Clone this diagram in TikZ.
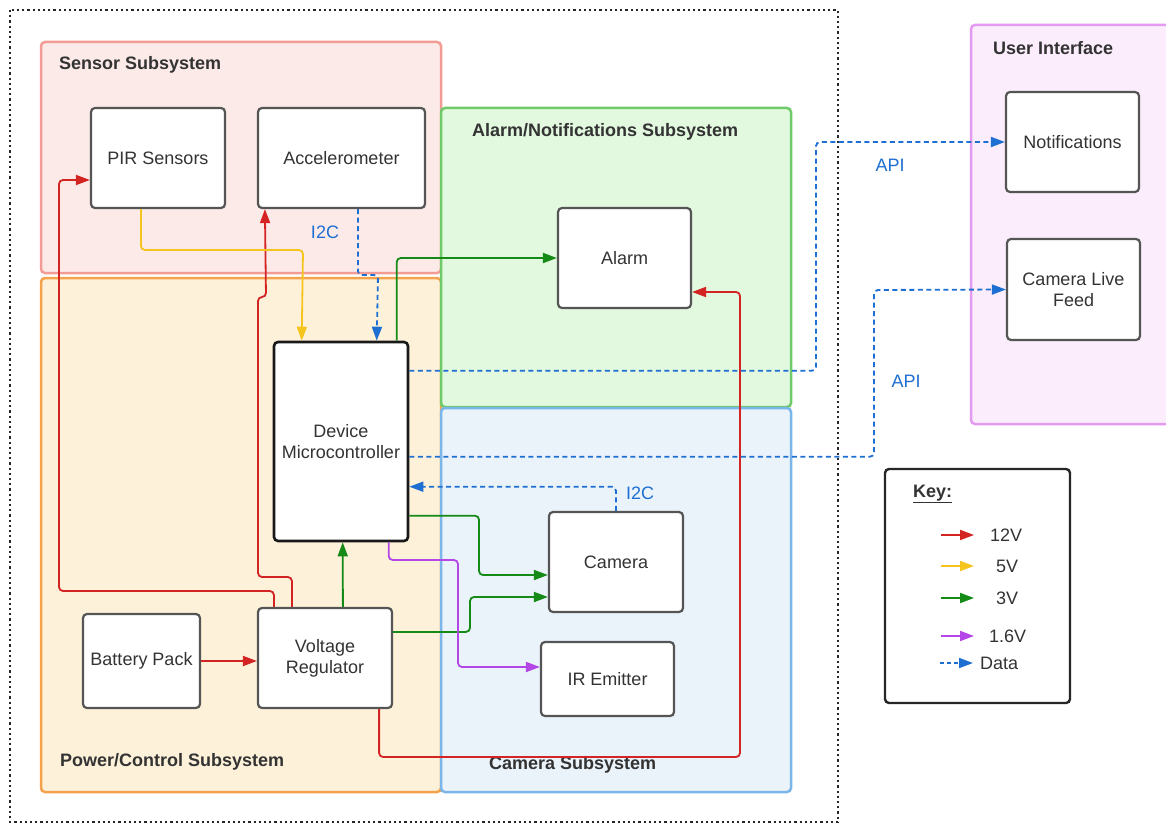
\documentclass[tikz,border=0pt]{standalone}
\usepackage{fontspec}
\setmainfont{Liberation Sans}
\usetikzlibrary{arrows.meta,calc}
\definecolor{c12}{HTML}{D42323}
\definecolor{c5}{HTML}{F5C51E}
\definecolor{c3}{HTML}{168A16}
\definecolor{c16}{HTML}{B445E6}
\definecolor{cdata}{HTML}{1E6FD2}
\definecolor{txt}{HTML}{333333}
\definecolor{boxgray}{HTML}{555555}
\definecolor{sensF}{HTML}{FCEAE8}\definecolor{sensD}{HTML}{F29C95}
\definecolor{powF}{HTML}{FDF1D9}\definecolor{powD}{HTML}{F5A24C}
\definecolor{almF}{HTML}{E2F8DF}\definecolor{almD}{HTML}{6FCB6A}
\definecolor{camF}{HTML}{EAF2FA}\definecolor{camD}{HTML}{7AB6EA}
\definecolor{uiF}{HTML}{FBEDFB}\definecolor{uiD}{HTML}{E39AF0}
\begin{document}
\begin{tikzpicture}[x=1pt,y=-1pt,
  subsys/.style={line width=2.5pt, rounded corners=4pt, inner sep=0pt},
  title/.style={font=\bfseries\fontsize{18}{21}\selectfont, text=txt, anchor=west, inner sep=0pt},
  box/.style={draw=boxgray, line width=2.2pt, fill=white, rounded corners=4pt,
    font=\fontsize{18}{21}\selectfont, text=txt, align=center, inner sep=0pt},
  wire/.style={line width=1.8pt, rounded corners=4pt, -{Triangle[length=14pt,width=10pt]}},
  v12/.style={wire, draw=c12},
  v5/.style={wire, draw=c5},
  v3/.style={wire, draw=c3},
  v16/.style={wire, draw=c16},
  data/.style={wire, draw=cdata, dash pattern=on 5pt off 3.5pt},
  lbl/.style={font=\fontsize{18}{21}\selectfont, text=cdata, inner sep=0pt},
  keytxt/.style={font=\fontsize{18}{21}\selectfont, text=txt, anchor=west, inner sep=0pt}]
\clip (0,0) rectangle (1166,826);
\fill[white] (0,0) rectangle (1166,826);

% subsystems
\node[subsys, draw=sensD, fill=sensF, minimum width=400pt, minimum height=231pt] (sensor) at (241,157.5) {};
\node[subsys, draw=powD, fill=powF, minimum width=400pt, minimum height=514pt] (power) at (241,535) {};
\node[subsys, draw=almD, fill=almF, minimum width=350pt, minimum height=299pt] (alarmsub) at (616,257.5) {};
\node[subsys, draw=camD, fill=camF, minimum width=350pt, minimum height=384pt] (camsub) at (616,600) {};
\node[subsys, draw=uiD, fill=uiF, minimum width=220pt, minimum height=399pt] (uisub) at (1081,224.5) {};

\node[title] (tsens) at (59,65) {Sensor Subsystem};
\node[title] (tpow) at (60,762) {Power/Control Subsystem};
\node[title] (talm) at (472,132) {Alarm/Notifications Subsystem};
\node[title] (tcam) at (489,765) {Camera Subsystem};
\node[title] (tui) at (993,48) {User Interface};

% outer dotted boundary
\draw[line width=2.6pt, draw=black!85, dash pattern=on 2.2pt off 3pt] (10,10) rectangle (838,822);

% component boxes
\node[box, minimum width=134pt, minimum height=100pt] (pir) at (158,158) {PIR Sensors};
\node[box, minimum width=167pt, minimum height=100pt] (acc) at (341.5,158) {Accelerometer};
\node[box, minimum width=133pt, minimum height=100pt] (alarm) at (624.5,258) {Alarm};
\node[box, draw=black!90, line width=2.6pt, minimum width=134pt, minimum height=199pt] (mc) at (341,441.5) {Device\\Microcontroller};
\node[box, minimum width=134pt, minimum height=100pt] (cam) at (616,562) {Camera};
\node[box, minimum width=133pt, minimum height=74pt] (ir) at (607.5,679) {IR Emitter};
\node[box, minimum width=117pt, minimum height=94pt] (bat) at (141.5,661) {Battery Pack};
\node[box, minimum width=134pt, minimum height=100pt] (vr) at (325,658) {Voltage\\Regulator};
\node[box, minimum width=133pt, minimum height=100pt] (notif) at (1072.5,142) {Notifications};
\node[box, minimum width=133pt, minimum height=101pt] (clf) at (1073.5,289.5) {Camera Live\\Feed};

% connectors
\draw[v12] ($(vr.north west)+(17,0)$) |- (59,591) |- ($(pir.west)+(0,22)$);
\draw[v12] ($(vr.north west)+(35,0)$) |- (258,577) |- (266,297) -- ($(acc.south west)+(8,0)$);
\draw[v12] ($(vr.south east)+(-14,0)$) |- (740,757) |- ($(alarm.east)+(0,34)$);
\draw[v12] (bat.east) -- (bat.east -| vr.west);
\draw[v5] ($(pir.south west)+(51,0)$) |- (303,250) -- ($(mc.north west)+(29,0)$);
\draw[data] ($(acc.south west)+(101,0)$) |- (378,275) -- ($(mc.north west)+(104,0)$);
\draw[v3] ($(mc.north west)+(124,0)$) |- (alarm.west);
\draw[data] ($(mc.north east)+(0,30)$) -| (816,142) -- (notif.west);
\draw[data] ($(mc.north east)+(0,116)$) -| (874,290) -- (clf.west);
\draw[data] ($(cam.north west)+(68,0)$) |- ($(mc.north east)+(0,146)$);
\draw[v3] ($(mc.north east)+(0,175)$) -| (479,575) -- ($(cam.west)+(0,13)$);
\draw[v3] ($(vr.north east)+(0,25)$) -| (470,597) -- ($(cam.west)+(0,35)$);
\draw[v16] ($(mc.south west)+(116,0)$) |- (458,560) |- ($(ir.west)+(0,-12)$);
\draw[v3] ($(vr.north west)+(86,0)$) -- ($(mc.south west)+(70,0)$);

% connector labels
\node[lbl] (l1) at (325,232) {I2C};
\node[lbl] (l2) at (890,165) {API};
\node[lbl] (l3) at (906,381) {API};
\node[lbl] (l4) at (640,493) {I2C};

% key
\node[draw=black!85, line width=2.4pt, fill=white, rounded corners=4pt, minimum width=185pt, minimum height=234pt] (key) at (977.5,586) {};
\node[title, font=\bfseries\fontsize{18}{21}\selectfont] (keyt) at (913,494) {\underline{Key:}};
\coordinate (k1a) at (941,535); \coordinate (k1b) at (974,535);
\coordinate (k2a) at (941,566); \coordinate (k2b) at (974,566);
\coordinate (k3a) at (941,598); \coordinate (k3b) at (974,598);
\coordinate (k4a) at (941,636); \coordinate (k4b) at (974,636);
\coordinate (k5a) at (940,663); \coordinate (k5b) at (973,663);
\draw[v12] (k1a) -- (k1b);
\draw[v5] (k2a) -- (k2b);
\draw[v3] (k3a) -- (k3b);
\draw[v16] (k4a) -- (k4b);
\draw[data, dash pattern=on 4pt off 3pt] (k5a) -- (k5b);
\node[keytxt] (kt1) at (990,535) {12V};
\node[keytxt] (kt2) at (996,566) {5V};
\node[keytxt] (kt3) at (996,598) {3V};
\node[keytxt] (kt4) at (989,636) {1.6V};
\node[keytxt] (kt5) at (980,663) {Data};
\end{tikzpicture}
\end{document}
